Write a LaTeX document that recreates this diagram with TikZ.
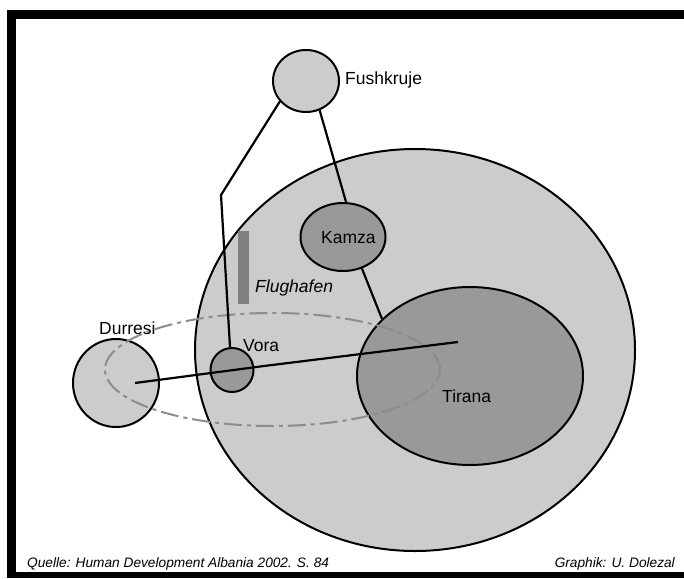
\documentclass[tikz,border=0pt]{standalone}
\usepackage{fontspec}
\setmainfont{Liberation Sans}
\usepackage{xcolor}
\usepackage{tikz}
\usetikzlibrary{shapes.geometric}
\definecolor{regiongray}{HTML}{CCCCCC}
\definecolor{citygray}{HTML}{999999}
\definecolor{bargray}{HTML}{808080}
\definecolor{ringgray}{HTML}{8C8C8C}
\tikzset{
    townarea/.style={draw, ellipse, line width=2pt, inner sep=0pt, fill=#1}, townarea/.default=regiongray,
    link/.style={line width=2.2pt},
    ring/.style={draw=ringgray, line width=2pt, dash pattern=on 18pt off 5pt on 4pt off 5pt},
    townlabel/.style={inner sep=0pt, font=\fontsize{17.5}{20}\selectfont},
    sourcetext/.style={inner sep=0pt, font=\itshape\fontsize{13.7}{16}\selectfont}}
\begin{document}
\begin{tikzpicture}[x=1pt, y=-1pt]
\useasboundingbox (0,0) rectangle (684,578);
\fill[black] (7,10) rectangle (684,19);
\fill[black] (7,10) rectangle (16,578);
\fill[black] (7,572) rectangle (684,578);

\node[townarea, minimum width=440pt, minimum height=402pt] (region) at (415,350) {};
\node[townarea=citygray, minimum width=226pt, minimum height=178pt] (tirana) at (470,376) {};
\node[townarea=citygray, minimum width=85pt, minimum height=68pt] (kamza) at (343,237) {};
\node[townarea=citygray, minimum width=43pt, minimum height=44pt] (vora) at (232,370) {};
\node[townarea, minimum width=86pt, minimum height=88pt] (durresi) at (116,383) {};
\node[townarea, minimum width=66pt, minimum height=62pt] (fushkruje) at (306,81) {};
\node[fill=bargray, inner sep=0pt, minimum width=11pt, minimum height=73pt] (airport) at (243.5,267.5) {};

\draw[ring] (272.5,369.5) ellipse [x radius=167.5pt, y radius=56.5pt];

\coordinate (durresiPt) at (135,383);
\coordinate (voraPt) at (264,366);
\coordinate (tiranaPt) at (458,342);
\coordinate (bend) at (221,195);
\draw[link] (durresiPt) -- (voraPt) -- (tiranaPt);
\draw[link] (vora.95) -- (bend) -- (fushkruje.218);
\draw[link] (fushkruje.-65) -- (kamza.85);
\draw[link] (kamza.-59) -- (tirana.147);

\node[townlabel, anchor=base west] (fushkrujeLabel) at (345,84) {Fushkruje};
\node[townlabel, anchor=base west] (kamzaLabel) at (321,243) {Kamza};
\node[townlabel, anchor=base west] (durresiLabel) at (99,334) {Durresi};
\node[townlabel, anchor=base west] (voraLabel) at (243,351) {Vora};
\node[townlabel, anchor=base west] (tiranaLabel) at (442,402) {Tirana};
\node[townlabel, anchor=base west, font=\itshape\fontsize{17.5}{20}\selectfont] (airportLabel) at (255,292) {Flughafen};

\node[sourcetext, anchor=base west] (sourceNote) at (27,567) {Quelle: Human Development Albania 2002. S. 84};
\node[sourcetext, anchor=base east] (creditNote) at (675,567) {Graphik: U. Dolezal};
\end{tikzpicture}
\end{document}
